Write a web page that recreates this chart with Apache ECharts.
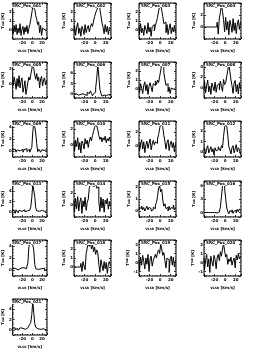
<!DOCTYPE html>
<html><head><meta charset="utf-8">
<script src="https://cdn.jsdelivr.net/npm/echarts@6/dist/echarts.min.js"></script>
<style>html,body{margin:0;padding:0;background:#fff}#c{width:253px;height:351px}</style>
</head><body><div id="c"></div>
<script>
// velocity channels (km/s)
const VEL = [-40,-38,-36,-34,-32,-30,-28,-26,-24,-22,-20,-18,-16,-14,-12,-10,-8,-6,-4,-2,0,2,4,6,8,10,12,14,16,18,20,22,24,26,28,30];
const LABELS = ['SRC_Pos_001','SRC_Pos_002','SRC_Pos_003','SRC_Pos_004','SRC_Pos_005','SRC_Pos_006','SRC_Pos_007','SRC_Pos_008','SRC_Pos_009','SRC_Pos_010','SRC_Pos_011','SRC_Pos_012','SRC_Pos_013','SRC_Pos_014','SRC_Pos_015','SRC_Pos_016','SRC_Pos_017','SRC_Pos_018','SRC_Pos_019','SRC_Pos_020','SRC_Pos_021'];
const P01 = [0.3,-0.4,0.5,-0.2,0.6,-0.5,0.2,-0.3,0.7,-0.6,0.1,0.4,-0.5,0.3,-0.2,0.5,-0.4,0.2,0.6,1.2,1.9,2.6,2.8,2.3,1.6,1.2,0.6,0.9,-0.3,0.5,-0.6,0.2,0,0,0,0];
const P02 = [-0.2,0.5,-0.6,0.3,0.8,-0.4,0.2,-0.7,0.4,0.1,-0.5,0.6,-0.3,0.2,0.5,-0.2,0.3,0.7,0.4,1.0,1.5,1.9,2.2,2.5,2.7,2.3,1.6,0.8,0.3,-0.4,0.6,-0.2,0.4,-0.5,0.3,0.1];
const P03 = [0.4,-0.5,0.7,-0.3,0.2,-0.6,0.5,0.1,-0.4,0.8,-0.2,0.3,-0.7,0.4,0.6,-0.1,0.5,0.9,1.4,2.1,2.6,2.9,2.2,1.5,0.7,0.9,-0.3,0.6,-0.5,0.2,0.7,-0.4,0.3,-0.2,0.5,-0.3];
const P04 = [0,0,0,0,0,0,0,0,0,0,0,0,0,0.8,-1.2,1.5,2.4,3.7,2.6,1.2,-0.8,1.6,-0.5,0.9,-1.3,1.1,0.3,-0.9,1.4,-0.6,0.7,-1.1,0.5,1.2,-0.4,0.8];
const P05 = [0.6,-0.3,0.9,0.2,-0.8,0.7,-0.4,1.1,-0.6,0.3,0.8,-1.2,-0.5,0.4,-1.5,-0.7,0.2,0.9,0.5,1.3,2.0,2.8,2.1,1.2,0.6,1.4,0.4,0.9,-0.6,0.7,1.0,-0.3,0.5,0.8,-0.2,0.4];
const P06 = [0.2,-0.3,0.1,0.4,-0.2,0.3,0,-0.4,0.2,0.5,-0.1,0.3,-0.3,0.6,0.2,-0.2,1.0,0.3,-0.4,0.2,0.6,1.8,4.5,8.2,5.1,1.4,0.3,-0.5,-0.2,0.1,-0.3,0.2,-0.1,0.3,-0.2,0.1];
const P07 = [0.3,-0.4,0.6,0.1,-0.5,0.4,0.8,-0.2,0.5,-0.6,0.3,0.7,0.2,-0.3,0.6,0.4,0.9,0.5,1.0,0.7,1.4,2.0,2.7,2.5,1.8,1.1,0.4,0.6,-0.3,0.2,-0.5,0.1,0,0,0,0];
const P08 = [-0.5,1.2,-1.0,0.4,1.5,-0.8,0.3,-1.3,0.9,0.2,-0.6,1.1,-0.9,0.5,0.8,-0.4,1.3,0.2,-0.7,1.6,0.6,1.0,2.2,3.4,4.6,3.1,1.5,0.4,-1.1,0.9,1.4,-0.8,0.6,-1.2,1.0,-0.3];
const P09 = [0.2,-0.1,0.3,0.1,-0.2,0.2,0.4,0,-0.3,0.1,0.3,-0.2,0.2,0,0.4,-0.1,0.2,0.3,-0.2,0.1,0.6,3.2,4.6,4.1,3.0,1.2,-0.1,0.3,0.1,-0.2,0.2,0,0.1,-0.1,0.2,0.1];
const P10 = [0.4,-0.8,0.6,-0.2,0.9,-0.6,0.3,-1.0,0.5,0.2,-0.5,0.8,0.1,0.6,-0.3,0.5,1.0,0.5,1.2,1.7,2.2,2.7,2.4,1.9,1.2,0.7,1.0,0.4,0.9,0.6,1.1,0.3,0.8,0.5,1.0,0.4];
const P11 = [0.5,-0.7,0.3,0.9,-0.4,0.6,-0.9,0.2,0.7,-0.3,0.4,1.0,-0.5,0.3,0.8,0.2,0.6,0.4,1.0,1.6,2.4,3.2,3.3,2.6,1.5,0.7,-0.4,0.5,0.9,-0.6,0.3,0.7,-0.2,0.5,-0.8,0.4];
const P12 = [0.1,0.4,-0.2,0.3,0.6,-0.1,0.2,0.5,0,0.3,-0.3,0.4,0.1,0.2,0.5,0.3,0.1,0.6,0.4,1.5,2.4,2.8,2.5,1.6,0.5,0.2,-0.2,0.4,0.6,-0.1,0.3,0.7,0,0.4,0.2,-0.2];
const P13 = [0.3,0,0.2,-0.3,0.4,0.1,-0.2,0.3,0.5,0.1,-0.1,0.2,0.4,0,0.3,0.2,0.5,0.3,0.6,1.0,2.8,5.4,5.6,3.0,0.8,0.2,0.5,0.1,0.4,-0.1,0.3,0.6,0.2,0,0.3,0.1];
const P14 = [0.8,-1.2,1.1,-0.6,1.4,-1.0,0.5,1.2,-1.4,0.7,-0.3,1.3,-0.9,0.4,1.0,2.9,3.4,3.2,3.5,3.1,3.6,3.3,2.8,3.0,0.6,-1.1,1.3,-0.5,1.0,-1.2,0.8,0.2,1.1,-0.7,0.6,-0.2];
const P15 = [0.1,0.3,0.2,0.4,0.1,0.3,0,0.2,0.4,0.1,0.3,0.2,0,0.1,0.3,0.2,0.5,0.7,1.2,1.9,2.1,1.6,1.8,0.9,0.4,0.6,0.2,0.3,0,0.4,0.1,0.3,0.2,0.5,0.1,0.3];
const P16 = [0,0,0,0,0,0,0,0,0,0,0,0.2,-0.1,0.3,0.1,0.4,1.2,3.5,5.9,6.2,5.4,3.1,1.0,0.2,-0.3,0.4,0.1,0.6,-0.2,0.3,0.5,-0.1,0.7,0.2,0.8,0.4];
const P17 = [0.2,-0.1,0.3,0.1,0.4,0,0.2,-0.2,0.3,0.1,0.2,0.4,0.1,0.3,0.2,0.5,1.2,3.8,4.6,4.4,4.7,4.2,3.3,0.9,0.2,0.4,0.1,0.3,0,0.2,0.4,0.1,0.3,-0.1,0.2,0.1];
const P18 = [0,0,0,0,0,0,0,0.4,-0.5,0.6,0.1,-0.3,1.5,2.1,2.6,2.3,2.8,2.0,2.5,1.7,2.2,1.4,1.9,1.6,0.3,-0.6,0.8,0.2,-0.4,0.6,-0.2,0.5,-0.7,0.3,0.6,0.1];
const P19 = [0.3,-0.9,0.6,-0.3,0.8,0.1,-0.7,0.5,-0.2,0.9,-1.0,0.4,0.7,-0.4,0.2,0.6,0.9,0.5,1.1,1.4,1.0,2.0,1.5,0.8,1.1,0.2,-0.6,0.5,0.3,-1.1,0.4,0.7,-0.3,0.6,-0.5,0.2];
const P20 = [0.5,-0.8,0.2,0.9,-0.5,0.4,-1.1,0.7,0.1,-0.4,0.8,0.3,-0.7,0.6,0.9,0.2,1.2,0.7,1.5,2.1,1.3,0.6,0.9,-0.2,0.4,0.1,0.6,-0.3,0.2,0.5,-0.6,0.8,0.3,1.0,0.4,0.7];
const P21 = [0.3,0.1,0.4,0,0.2,0.3,-0.1,0.2,0.4,0.1,0.3,0,0.2,0.1,0.3,0.2,0.4,0.6,1.1,1.5,3.0,5.6,3.4,1.2,0.5,0.3,0.2,0.4,0.1,0.3,0,0.2,0.1,0.2,0,0.1];
const SPECTRA = [P01,P02,P03,P04,P05,P06,P07,P08,P09,P10,P11,P12,P13,P14,P15,P16,P17,P18,P19,P20,P21];
const YMIN = [-1,-1,-1,-2,-2,-1,-1,-2,-1,-1.5,-1.5,-0.5,-1,-2,-0.5,-1,-1,-1,-1.5,-1.5,-1];
const YMAX = [3,3,3,4,3,9,3,5,5,3,3.5,3,6,4,2.5,7,5,3,2.5,2.5,6];
const X_MIN = -40, X_MAX = 30, X_INT = 20;

const COL_LEFT = [10, 74, 139, 204];
const ROW_TOP = [3, 62, 121, 181, 240, 299];
const W = 37, H = 36;
const FONT = 'DejaVu Sans';

const grids = [], xAxes = [], yAxes = [], series = [], titles = [];
SPECTRA.forEach((vals, k) => {
  const r = Math.floor(k / 4), c = k % 4;
  const left = COL_LEFT[c], top = ROW_TOP[r];
  grids.push({left, top, width: W, height: H, show: true, borderColor: '#000', borderWidth: 1, backgroundColor: '#fff'});
  const tick = {show: true, inside: true, length: 2, lineStyle: {color: '#000', width: 0.8}};
  const minor = {show: true, splitNumber: 4, length: 1, lineStyle: {color: '#000', width: 0.6}};
  const line = {show: false, onZero: false};
  const lab = {fontSize: 4, margin: 2, color: '#000', fontFamily: FONT, fontWeight: 'bold', showMinLabel: false, showMaxLabel: false};
  xAxes.push({type: 'value', gridIndex: k, position: 'bottom', min: X_MIN, max: X_MAX, interval: X_INT,
    axisLine: line, axisTick: tick, minorTick: minor, splitLine: {show: false}, axisLabel: lab,
    name: '{i|v}{s|LSR} [km/s]', nameLocation: 'middle', nameGap: 10,
    nameTextStyle: {fontSize: 4, color: '#000', fontFamily: FONT, fontWeight: 'bold',
      rich: {i: {fontSize: 4, fontWeight: 'bold', fontFamily: FONT}, s: {fontSize: 3, fontWeight: 'bold', fontFamily: FONT, verticalAlign: 'bottom'}}}});
  xAxes.push({type: 'value', gridIndex: k, position: 'top', min: X_MIN, max: X_MAX, interval: X_INT,
    axisLine: line, axisTick: tick, minorTick: minor, splitLine: {show: false}, axisLabel: {show: false}});
  yAxes.push({type: 'value', gridIndex: k, position: 'left', min: YMIN[k], max: YMAX[k], splitNumber: 3,
    axisLine: line, axisTick: tick, minorTick: minor, splitLine: {show: false}, axisLabel: Object.assign({}, lab, {margin: 1}),
    name: '{i|T}{s|mb} [K]', nameLocation: 'middle', nameGap: 6,
    nameTextStyle: {fontSize: 4, color: '#000', fontFamily: FONT, fontWeight: 'bold',
      rich: {i: {fontSize: 4, fontWeight: 'bold', fontFamily: FONT}, s: {fontSize: 3, fontWeight: 'bold', fontFamily: FONT}}}});
  yAxes.push({type: 'value', gridIndex: k, position: 'right', min: YMIN[k], max: YMAX[k], splitNumber: 3,
    axisLine: line, axisTick: tick, minorTick: minor, splitLine: {show: false}, axisLabel: {show: false}});
  series.push({type: 'line', xAxisIndex: 2 * k, yAxisIndex: 2 * k, data: VEL.map((v, i) => [v, vals[i]]),
    step: 'middle', symbol: 'none', silent: true, lineStyle: {color: '#000', width: 1}});
  titles.push({text: LABELS[k], left: left + 1, top: top + 1, padding: [0, 1],
    backgroundColor: '#fff', textStyle: {fontSize: 4, color: '#000', fontFamily: FONT, fontWeight: 'bold'}});
});

const chart = echarts.init(document.getElementById('c'), null, {renderer: 'canvas'});
chart.setOption({animation: false, backgroundColor: '#fff', title: titles, grid: grids, xAxis: xAxes, yAxis: yAxes, series});
</script></body></html>
